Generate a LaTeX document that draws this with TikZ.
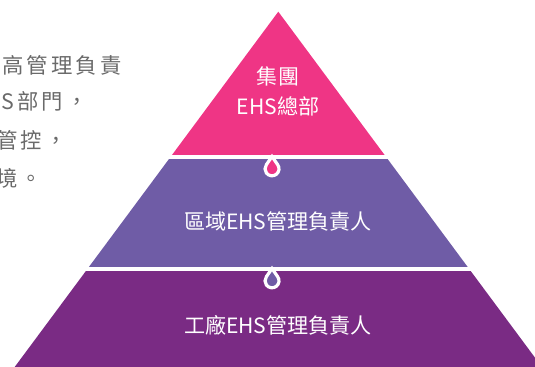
\documentclass[tikz,border=0pt]{standalone}
\usepackage{fontspec}
\setmainfont{Noto Sans CJK TC}
\newfontfamily\sidefont[LetterSpace=15]{Noto Sans CJK TC}
\usetikzlibrary{positioning}

\definecolor{toppink}{HTML}{EF3585}
\definecolor{midviolet}{HTML}{6F5CA6}
\definecolor{lowpurple}{HTML}{7A2B84}
\definecolor{sidegray}{HTML}{6A6A6A}

\tikzset{
  tiertext/.style={text=white,align=center,inner sep=0pt,
    font=\fontsize{15.8}{22}\selectfont},
  sidetext/.style={text=sidegray,anchor=west,inner sep=0pt,
    font=\sidefont\fontsize{16}{18}\selectfont},
  band/.style={white,line width=2.6pt},
  drop/.style={white,line width=2.4pt}
}

\begin{document}
\begin{tikzpicture}[x=0.75pt,y=0.75pt]
\clip (0,0) rectangle (535,367);

% pyramid corners
\coordinate (apex) at (278.3,355.3);
\coordinate (topL) at (170.5,210);
\coordinate (topR) at (386.1,210);
\coordinate (midL) at (87.4,98);
\coordinate (midR) at (469.2,98);
\coordinate (lowL) at (-9.8,-33);
\coordinate (lowR) at (566.4,-33);

\fill[toppink] (apex) -- (topR) -- (topL) -- cycle;
\fill[midviolet] (topL) -- (topR) -- (midR) -- (midL) -- cycle;
\fill[lowpurple] (midL) -- (midR) -- (lowR) -- (lowL) -- cycle;

\draw[band] ([xshift=-8]topL) -- ([xshift=8]topR);
\draw[band] ([xshift=-8]midL) -- ([xshift=8]midR);

% drops
\draw[drop,fill=toppink] (272,210.5) -- (277.6,202.4)
  arc[start angle=37,end angle=-217,radius=7] -- cycle;
\draw[drop,fill=midviolet] (272,98.5) -- (277.6,90.4)
  arc[start angle=37,end angle=-217,radius=7] -- cycle;

\node[tiertext] (group) at (278,275.6) {集團\\EHS總部};
\node[tiertext] (region) at (278,145.3) {區域EHS管理負責人};
\node[tiertext] (plant) at (278,42) {工廠EHS管理負責人};

\node[sidetext] (side1) at (2,302) {高管理負責};
\node[sidetext] (side2) at (1,266) {S部門，};
\node[sidetext] (side3) at (-4,227) {管控，};
\node[sidetext] (side4) at (-4,189) {境。};

\end{tikzpicture}
\end{document}
